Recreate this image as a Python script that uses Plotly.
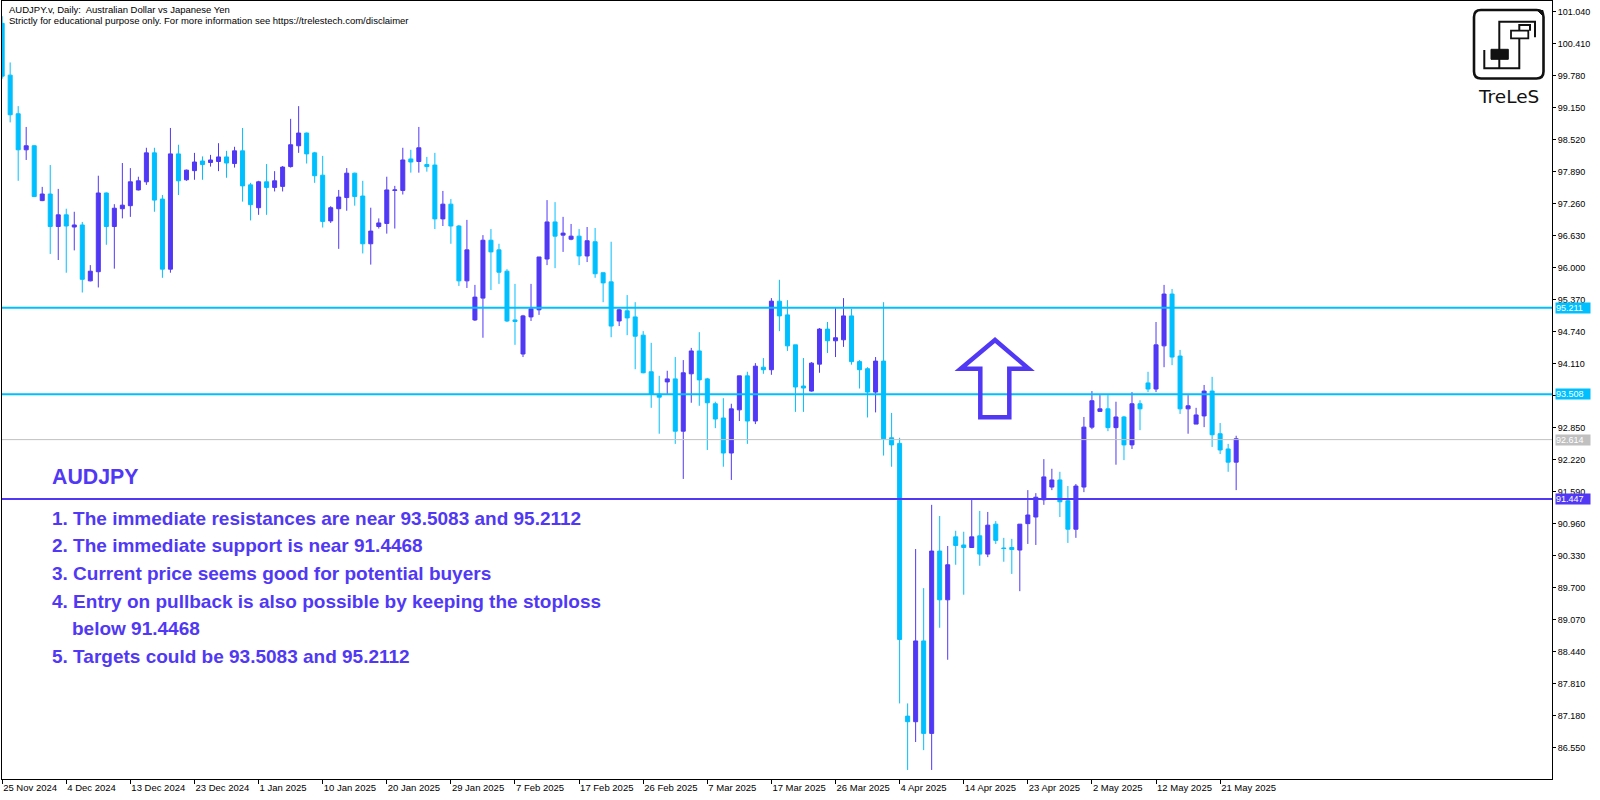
import plotly.graph_objects as go

# ---------------- data ----------------
MONTH_DAYS = {
    "2024-11": [25, 26, 27, 28, 29],
    "2024-12": [1, 2, 3, 4, 5, 6, 8, 9, 10, 11, 12, 13, 15, 16, 17, 18, 19, 20, 22, 23, 24, 25, 26, 27, 29, 30, 31],
    "2025-01": [1, 2, 3, 5, 6, 7, 8, 9, 10, 12, 13, 14, 15, 16, 17, 19, 20, 21, 22, 23, 24, 26, 27, 28, 29, 30, 31],
    "2025-02": [2, 3, 4, 5, 6, 7, 9, 10, 11, 12, 13, 14, 16, 17, 18, 19, 20, 21, 23, 24, 25, 26, 27, 28],
    "2025-03": [2, 3, 4, 5, 6, 7, 9, 10, 11, 12, 13, 14, 16, 17, 18, 19, 20, 21, 23, 24, 25, 26, 27, 28, 30, 31],
    "2025-04": [1, 2, 3, 4, 6, 7, 8, 9, 10, 11, 13, 14, 15, 16, 17, 18, 20, 21, 22, 23, 24, 25, 27, 28, 29, 30],
    "2025-05": [1, 2, 4, 5, 6, 7, 8, 9, 11, 12, 13, 14, 15, 16, 18, 19, 20, 21, 22, 23],
}
DATES = [f"{m}-{d:02d}" for m, days in MONTH_DAYS.items() for d in days]

OPEN = [100.81, 99.79, 99.03, 98.32, 98.40, 97.32, 97.45, 96.81, 97.04, 96.80,
        96.84, 95.74, 95.92, 97.47, 96.81, 97.16, 97.22, 97.53, 97.69, 98.26,
        97.35, 95.97, 98.24, 97.73, 97.91, 98.10, 98.07, 98.09, 98.18, 98.05,
        98.30, 97.63, 97.18, 97.69, 97.58, 97.60, 97.99, 98.40, 98.65, 98.26,
        97.82, 96.92, 97.16, 97.38, 97.86, 97.41, 96.47, 96.81, 96.87, 97.52,
        97.52, 98.14, 98.09, 98.03, 98.02, 96.96, 97.25, 96.82, 95.74, 94.97,
        95.40, 96.54, 96.35, 95.93, 94.97, 94.30, 95.03, 95.17, 96.17, 96.90,
        96.64, 96.56, 96.62, 96.23, 96.51, 95.90, 95.72, 94.95, 95.15, 95.03,
        94.67, 93.95, 93.51, 93.75, 93.81, 92.78, 93.91, 94.36, 93.81, 93.32,
        93.04, 92.35, 93.20, 93.87, 92.98, 94.04, 93.99, 95.34, 95.07, 94.48,
        93.67, 93.57, 94.10, 94.79, 94.56, 94.58, 95.05, 94.15, 94.01, 93.55,
        94.16, 92.65, 92.54, 87.17, 87.06, 88.65, 86.83, 90.42, 89.46, 90.70,
        90.54, 90.49, 90.72, 90.36, 90.95, 90.48, 90.49, 90.44, 90.96, 91.09,
        91.43, 91.68, 91.82, 91.41, 90.85, 91.68, 92.86, 93.17, 93.22, 92.85,
        93.06, 92.51, 93.32, 93.73, 93.61, 94.46, 95.48, 94.26, 93.22, 92.92,
        93.08, 93.57, 92.73, 92.43, 92.17]
HIGH = [100.95, 100.04, 99.18, 98.77, 98.41, 97.59, 98.02, 97.55, 97.16, 97.10,
        96.90, 96.05, 97.81, 97.48, 97.25, 98.06, 97.96, 97.79, 98.36, 98.36,
        97.43, 98.75, 98.42, 97.93, 98.26, 98.19, 98.22, 98.45, 98.30, 98.38,
        98.75, 97.67, 97.71, 98.04, 97.90, 98.00, 98.93, 99.18, 98.66, 98.28,
        98.20, 97.21, 97.53, 97.96, 97.87, 97.71, 97.18, 96.97, 97.79, 97.61,
        98.36, 98.32, 98.77, 98.18, 98.26, 97.51, 97.35, 96.84, 96.94, 95.66,
        96.64, 96.76, 96.47, 95.97, 95.68, 95.07, 95.68, 96.21, 97.33, 97.29,
        97.00, 96.86, 96.76, 96.80, 96.78, 95.90, 96.51, 95.19, 95.46, 95.32,
        94.75, 94.52, 93.87, 93.97, 94.24, 94.18, 94.42, 94.73, 93.83, 93.36,
        93.43, 93.32, 93.87, 93.95, 94.12, 94.22, 95.40, 95.76, 95.36, 94.48,
        94.22, 94.14, 94.81, 94.93, 95.21, 95.40, 95.19, 94.18, 94.04, 94.24,
        95.32, 93.14, 92.65, 87.42, 90.46, 89.69, 91.33, 91.11, 90.52, 90.82,
        90.80, 91.43, 91.21, 91.19, 91.01, 90.68, 90.66, 90.95, 91.62, 91.56,
        92.23, 92.04, 91.98, 91.70, 91.74, 93.06, 93.57, 93.49, 93.49, 93.36,
        93.08, 93.55, 93.39, 93.95, 94.93, 95.66, 95.58, 94.38, 93.49, 93.24,
        93.69, 93.85, 92.94, 92.53, 92.69]
LOW = [99.72, 98.86, 97.71, 98.12, 97.39, 97.31, 96.27, 96.15, 95.90, 96.34,
       95.51, 95.73, 95.61, 96.45, 95.98, 96.97, 97.00, 97.52, 97.63, 97.10,
       95.80, 95.90, 97.43, 97.71, 97.73, 97.73, 97.99, 97.90, 97.77, 97.97,
       97.30, 96.93, 97.04, 97.04, 97.50, 97.50, 97.97, 98.26, 98.05, 97.67,
       96.79, 96.88, 96.37, 97.12, 97.22, 96.28, 96.06, 96.77, 96.67, 96.77,
       97.44, 97.87, 97.87, 97.89, 96.76, 96.82, 96.47, 95.64, 95.60, 94.95,
       94.62, 95.56, 95.68, 94.93, 94.48, 94.24, 94.95, 95.07, 96.05, 95.99,
       96.31, 96.54, 96.05, 96.11, 95.80, 95.32, 94.63, 94.85, 94.67, 94.00,
       93.92, 93.24, 92.73, 93.51, 92.53, 91.84, 93.34, 93.28, 92.41, 92.84,
       92.08, 91.82, 92.98, 92.53, 92.92, 93.91, 93.89, 94.75, 94.36, 93.16,
       93.16, 93.56, 93.93, 94.32, 94.24, 94.44, 94.09, 93.62, 93.05, 93.15,
       92.30, 92.08, 87.42, 86.11, 86.66, 86.50, 86.11, 88.91, 88.28, 90.15,
       89.56, 90.48, 90.13, 90.30, 90.56, 90.21, 89.97, 89.63, 90.56, 90.54,
       91.33, 91.62, 91.09, 90.58, 90.68, 91.58, 92.82, 93.16, 92.78, 92.12,
       92.21, 92.43, 92.80, 93.55, 93.55, 94.04, 94.08, 93.12, 92.73, 92.92,
       92.86, 92.47, 92.33, 91.98, 91.62]
CLOSE = [99.77, 99.01, 98.32, 98.40, 97.40, 97.45, 96.81, 97.04, 96.82, 96.84,
         95.77, 95.93, 97.47, 96.81, 97.17, 97.23, 97.69, 97.71, 98.26, 97.33,
         95.97, 98.24, 97.71, 97.92, 98.08, 98.03, 98.12, 98.18, 98.06, 98.30,
         97.61, 97.24, 97.69, 97.58, 97.71, 97.98, 98.42, 98.65, 98.24, 97.81,
         96.91, 97.18, 97.39, 97.86, 97.40, 96.47, 96.72, 96.88, 97.53, 97.53,
         98.12, 98.08, 98.36, 97.99, 96.96, 97.25, 96.82, 95.74, 96.35, 95.42,
         96.54, 96.31, 95.91, 94.95, 94.94, 95.05, 95.19, 96.21, 96.90, 96.62,
         96.68, 96.62, 96.23, 96.53, 95.88, 95.70, 94.85, 95.17, 95.01, 94.65,
         93.93, 93.51, 93.45, 93.81, 92.78, 93.93, 94.36, 93.79, 93.34, 93.02,
         92.35, 93.22, 93.87, 92.98, 94.06, 93.99, 95.34, 95.05, 94.46, 93.65,
         93.63, 94.12, 94.79, 94.56, 94.62, 95.05, 94.15, 93.99, 93.55, 94.16,
         92.63, 92.51, 88.68, 87.06, 88.65, 86.83, 90.42, 89.46, 90.15, 90.53,
         90.49, 90.70, 90.36, 90.93, 90.63, 90.47, 90.45, 90.95, 91.13, 91.48,
         91.88, 91.82, 91.39, 90.85, 91.70, 92.86, 93.38, 93.22, 92.85, 93.06,
         92.51, 93.32, 93.22, 93.61, 94.48, 95.48, 94.24, 93.22, 93.28, 93.10,
         93.57, 92.71, 92.41, 92.17, 92.63]

TICK_DATES = ["2024-11-25", "2024-12-04", "2024-12-13", "2024-12-23", "2025-01-01",
              "2025-01-10", "2025-01-20", "2025-01-29", "2025-02-07", "2025-02-17",
              "2025-02-26", "2025-03-07", "2025-03-17", "2025-03-26", "2025-04-04",
              "2025-04-14", "2025-04-23", "2025-05-02", "2025-05-12", "2025-05-21"]
TICK_LABELS = ["25 Nov 2024", "4 Dec 2024", "13 Dec 2024", "23 Dec 2024", "1 Jan 2025",
               "10 Jan 2025", "20 Jan 2025", "29 Jan 2025", "7 Feb 2025", "17 Feb 2025",
               "26 Feb 2025", "7 Mar 2025", "17 Mar 2025", "26 Mar 2025", "4 Apr 2025",
               "14 Apr 2025", "23 Apr 2025", "2 May 2025", "12 May 2025", "21 May 2025"]
PRICE_TICKS = ["101.040", "100.410", "99.780", "99.150", "98.520", "97.890", "97.260",
               "96.630", "96.000", "95.370", "94.740", "94.110", "93.480", "92.850",
               "92.220", "91.590", "90.960", "90.330", "89.700", "89.070", "88.440",
               "87.810", "87.180", "86.550"]

RESISTANCE_1 = 95.2112
RESISTANCE_2 = 93.5083
SUPPORT = 91.4468
LAST_PRICE = 92.614

NOTE_TITLE = "AUDJPY"
NOTE_LINES = [
    "1. The immediate resistances are near 93.5083 and 95.2112",
    "2. The immediate support is near 91.4468",
    "3. Current price seems good for potential buyers",
    "4. Entry on pullback is also possible by keeping the stoploss",
    "    below 91.4468",
    "5. Targets could be 93.5083 and 95.2112",
]

# ---------------- style ----------------
PURPLE = "#5038F5"
CYAN = "#00BFFF"
GREY = "#C0C0C0"
FONT = "Liberation Sans, Arial, sans-serif"

W, H = 1600, 800
ML, MR, MT, MB = 2, 48, 1, 21
PW, PH = W - ML - MR, H - MT - MB
BAR_PX = 8.013   # pixel spacing of one daily bar
X0_PX = 2.0      # pixel position of the first bar


def fx(x):
    return (x - ML) / PW


def fy(y):
    return 1 - (y - MT) / PH


def path(points, close=False):
    s = "M " + " L ".join(f"{fx(x):.5f},{fy(y):.5f}" for x, y in points)
    return s + (" Z" if close else "")


xs = list(range(len(DATES)))
tickvals = [DATES.index(d) for d in TICK_DATES]

fig = go.Figure()
fig.add_trace(go.Candlestick(
    x=xs, open=OPEN, high=HIGH, low=LOW, close=CLOSE,
    increasing=dict(line=dict(color=PURPLE, width=1), fillcolor=PURPLE),
    decreasing=dict(line=dict(color=CYAN, width=1), fillcolor=CYAN),
    whiskerwidth=0, hoverinfo="skip", showlegend=False,
))

shapes = []
for lvl, col, wd in [(RESISTANCE_1, CYAN, 2), (RESISTANCE_2, CYAN, 2),
                     (LAST_PRICE, GREY, 1), (SUPPORT, PURPLE, 2)]:
    shapes.append(dict(type="line", xref="paper", yref="y", x0=0, x1=1, y0=lvl, y1=lvl,
                       line=dict(color=col, width=wd), layer="above"))

# hollow up arrow
arrow_px = [(995, 340), (1028.7, 368.7), (1009.3, 368.7), (1009.3, 417.3),
            (980.3, 417.3), (980.3, 368.7), (960.7, 368.7)]
shapes.append(dict(type="path", xref="paper", yref="paper", path=path(arrow_px, True),
                   line=dict(color=PURPLE, width=4.5), fillcolor="rgba(0,0,0,0)"))

# logo box (rounded)
x0, x1, y0, y1, r = 1474, 1543.5, 10, 78.5, 7
rr = (f"M {fx(x0 + r):.5f},{fy(y0):.5f} L {fx(x1 - r):.5f},{fy(y0):.5f} "
      f"Q {fx(x1):.5f},{fy(y0):.5f} {fx(x1):.5f},{fy(y0 + r):.5f} "
      f"L {fx(x1):.5f},{fy(y1 - r):.5f} Q {fx(x1):.5f},{fy(y1):.5f} {fx(x1 - r):.5f},{fy(y1):.5f} "
      f"L {fx(x0 + r):.5f},{fy(y1):.5f} Q {fx(x0):.5f},{fy(y1):.5f} {fx(x0):.5f},{fy(y1 - r):.5f} "
      f"L {fx(x0):.5f},{fy(y0 + r):.5f} Q {fx(x0):.5f},{fy(y0):.5f} {fx(x0 + r):.5f},{fy(y0):.5f} Z")
shapes.append(dict(type="path", xref="paper", yref="paper", path=rr,
                   line=dict(color="#111111", width=2.6), fillcolor="white"))
shapes.append(dict(type="path", xref="paper", yref="paper",
                   path=path([(1537.5, 10.5), (1543, 10.5), (1543, 16)], True),
                   line=dict(color="#111111", width=1), fillcolor="#111111"))
logo_lines = [
    [(1499.3, 68.3), (1499.3, 21.7), (1535, 21.7), (1535, 37.3)],
    [(1484.3, 50), (1484.3, 68.3), (1519.3, 68.3), (1519.3, 25), (1530, 25), (1530, 30.7)],
]
for pts in logo_lines:
    shapes.append(dict(type="path", xref="paper", yref="paper", path=path(pts),
                       line=dict(color="#111111", width=2)))
shapes.append(dict(type="path", xref="paper", yref="paper",
                   path=path([(1511, 30.7), (1528.3, 30.7), (1528.3, 38.3), (1511, 38.3)], True),
                   line=dict(color="#111111", width=1.8), fillcolor="white"))
shapes.append(dict(type="path", xref="paper", yref="paper",
                   path=path([(1491, 49.3), (1508.3, 49.3), (1508.3, 59.3), (1491, 59.3)], True),
                   line=dict(color="#111111", width=1), fillcolor="#111111"))

annotations = []
# header texts
annotations.append(dict(xref="paper", yref="paper", x=fx(7), y=fy(9.5), xanchor="left",
                        yanchor="middle", showarrow=False,
                        text="AUDJPY.v, Daily:  Australian Dollar vs Japanese Yen",
                        font=dict(family=FONT, size=9.5, color="black")))
annotations.append(dict(xref="paper", yref="paper", x=fx(7), y=fy(20.5), xanchor="left",
                        yanchor="middle", showarrow=False,
                        text="Strictly for educational purpose only. For more information see https://trelestech.com/disclaimer",
                        font=dict(family=FONT, size=9.5, color="black")))
# logo text
annotations.append(dict(xref="paper", yref="paper", x=fx(1508.5), y=fy(96.5), xanchor="center",
                        yanchor="middle", showarrow=False, text="TreLeS",
                        font=dict(family="DejaVu Sans, sans-serif", size=18.5, color="#111111")))
# price boxes on the axis
for lvl, col, txt in [(RESISTANCE_1, CYAN, "95.211"), (RESISTANCE_2, CYAN, "93.508"),
                      (LAST_PRICE, GREY, "92.614"), (SUPPORT, PURPLE, "91.447")]:
    annotations.append(dict(xref="paper", yref="y", x=1, y=lvl, xanchor="left", yanchor="middle",
                            xshift=3, showarrow=False, text=txt, bgcolor=col, width=34, height=10,
                            align="left", borderpad=0,
                            font=dict(family=FONT, size=9, color="white")))
# analysis notes
annotations.append(dict(xref="paper", yref="paper", x=fx(49.5), y=fy(477), xanchor="left",
                        yanchor="middle", showarrow=False, text=f"<b>{NOTE_TITLE}</b>",
                        font=dict(family=FONT, size=21.3, color=PURPLE)))
note_y = [518, 545.5, 573, 601, 628, 656]
for txt, yy in zip(NOTE_LINES, note_y):
    xx = 49.5
    if txt.startswith("    "):
        xx, txt = 70, txt.strip()
    annotations.append(dict(xref="paper", yref="paper", x=fx(xx), y=fy(yy), xanchor="left",
                            yanchor="middle", showarrow=False, text=f"<b>{txt}</b>",
                            font=dict(family=FONT, size=19, color=PURPLE)))

fig.update_layout(
    width=W, height=H,
    margin=dict(l=ML, r=MR, t=MT, b=MB, autoexpand=False),
    paper_bgcolor="white", plot_bgcolor="white",
    showlegend=False, hovermode=False,
    boxgap=0.5, boxgroupgap=0,
    shapes=shapes, annotations=annotations,
    xaxis=dict(
        range=[(ML - X0_PX) / BAR_PX - 0.02, (ML + PW - X0_PX) / BAR_PX - 0.02],
        tickvals=tickvals, ticktext=TICK_LABELS,
        ticks="outside", ticklen=4, tickcolor="black", tickwidth=1,
        ticklabelposition="outside right",
        tickfont=dict(family=FONT, size=9.5, color="black"),
        showline=True, linecolor="black", linewidth=1, mirror=True,
        showgrid=False, zeroline=False, rangeslider=dict(visible=False),
    ),
    yaxis=dict(
        side="right",
        range=[85.932, 101.250],
        tickvals=[float(t) for t in PRICE_TICKS], ticktext=PRICE_TICKS,
        ticks="outside", ticklen=3, tickcolor="black", tickwidth=1,
        tickfont=dict(family=FONT, size=9, color="black"),
        showline=True, linecolor="black", linewidth=1, mirror=True,
        showgrid=False, zeroline=False,
    ),
)

fig.write_html("out.html", config={"displayModeBar": False},
               post_script="document.body.style.margin='0px';document.body.style.overflow='hidden';")
